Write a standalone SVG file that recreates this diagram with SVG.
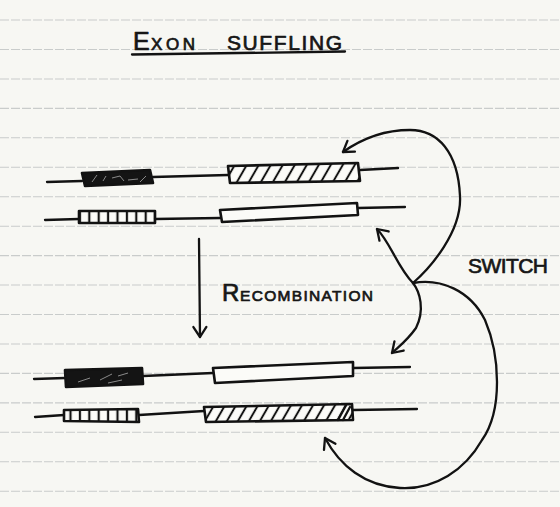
<svg xmlns="http://www.w3.org/2000/svg" width="560" height="507" viewBox="0 0 560 507">
<style>
.rule{stroke:#c9cccb;stroke-width:1.1;stroke-dasharray:9 2;fill:none}
.ink{stroke:#121212;stroke-width:2.3;fill:none;stroke-linecap:round;stroke-linejoin:round}
.box{stroke:#121212;stroke-width:2.6;stroke-linejoin:round}
.txt{font-family:"Liberation Sans","DejaVu Sans",sans-serif;fill:#161616;stroke:#161616;stroke-width:0.7;stroke-linejoin:round}
.scr{stroke:#e8e8e8;stroke-width:0.8;fill:none;opacity:0.7}
</style>
<defs>
<pattern id="hatch" patternUnits="userSpaceOnUse" width="12" height="40" patternTransform="skewX(-30)">
<rect width="12" height="40" fill="#fbfbf8"/>
<line x1="6" y1="-2" x2="6" y2="42" stroke="#121212" stroke-width="2.3"/>
</pattern>
<pattern id="hatch4" patternUnits="userSpaceOnUse" width="11" height="40" patternTransform="translate(3,0) skewX(-30)">
<rect width="11" height="40" fill="#fbfbf8"/>
<line x1="5" y1="-2" x2="5" y2="42" stroke="#121212" stroke-width="2.3"/>
</pattern>
<pattern id="bars" patternUnits="userSpaceOnUse" width="9.4" height="40">
<rect width="9.4" height="40" fill="#fbfbf8"/>
<line x1="4.7" y1="0" x2="4.7" y2="40" stroke="#121212" stroke-width="2.2"/>
</pattern>
<marker id="ah" viewBox="-12 -9 14 18" refX="0" refY="0" markerWidth="14" markerHeight="18" markerUnits="userSpaceOnUse" orient="auto">
<path d="M-10,-6.5 L0,0 L-10,6.5" fill="none" stroke="#121212" stroke-width="2.3" stroke-linecap="round" stroke-linejoin="round"/>
</marker>
</defs>
<rect width="560" height="507" fill="#f7f7f3"/>
<g id="paper-rules">
<line class="rule" x1="0" y1="20" x2="560" y2="20"/>
<line class="rule" x1="0" y1="49.5" x2="560" y2="49.5"/>
<line class="rule" x1="0" y1="79" x2="560" y2="79"/>
<line class="rule" x1="0" y1="108.4" x2="560" y2="108.4"/>
<line class="rule" x1="0" y1="137.8" x2="560" y2="137.8"/>
<line class="rule" x1="0" y1="167.3" x2="560" y2="167.3"/>
<line class="rule" x1="0" y1="196.7" x2="560" y2="196.7"/>
<line class="rule" x1="0" y1="226.2" x2="560" y2="226.2"/>
<line class="rule" x1="0" y1="255.6" x2="560" y2="255.6"/>
<line class="rule" x1="0" y1="285" x2="560" y2="285"/>
<line class="rule" x1="0" y1="314.5" x2="560" y2="314.5"/>
<line class="rule" x1="0" y1="344" x2="560" y2="344"/>
<line class="rule" x1="0" y1="373.4" x2="560" y2="373.4"/>
<line class="rule" x1="0" y1="402.9" x2="560" y2="402.9"/>
<line class="rule" x1="0" y1="432.3" x2="560" y2="432.3"/>
<line class="rule" x1="0" y1="461.8" x2="560" y2="461.8"/>
<line class="rule" x1="0" y1="491.2" x2="560" y2="491.2"/>
</g>

<g id="title">
<text class="txt" x="133" y="50" font-size="25">E</text>
<text class="txt" x="151" y="50" font-size="17" textLength="44" lengthAdjust="spacing">XON</text>
<text class="txt" x="227" y="50" font-size="21" textLength="115" lengthAdjust="spacing">SUFFLING</text>
<path class="ink" d="M132,54.5 L345,51.5" stroke-width="2.8"/>
</g>

<g id="row1">
<path class="ink" d="M47,182 L82,181"/>
<polygon class="box" fill="#141414" points="82,173 150,170 153,183 85,186"/>
<path class="scr" d="M92,182 L97,175 M103,181 L106,176 M112,178 L120,176 L124,181 M128,180 L138,179 M140,182 L146,176"/>
<path class="ink" d="M153,177 L228,175"/>
<polygon class="box" fill="url(#hatch)" points="228,166 358,163 360,181 230,183"/>
<path class="ink" d="M360,170 L398,168"/>
</g>

<g id="row2">
<path class="ink" d="M45,220 L79,219"/>
<polygon class="box" fill="url(#bars)" points="79,211 155,211 155,223 79,223"/>
<path class="ink" d="M155,219 L220,218"/>
<polygon class="box" fill="#fbfbf8" points="220,210 357,203 358,215 222,222"/>
<path class="ink" d="M358,208 L405,207"/>
</g>

<g id="row3">
<path class="ink" d="M34,379 L65,378"/>
<polygon class="box" fill="#141414" points="65,370 142,368 143,384 66,387"/>
<path class="scr" d="M78,382 L90,378 M100,380 L112,374 M118,376 L128,373 M108,383 L122,380"/>
<path class="ink" d="M143,376 L213,373"/>
<polygon class="box" fill="#fbfbf8" points="213,368 353,362 353,376 215,383"/>
<path class="ink" d="M353,368 L410,367"/>
</g>

<g id="row4">
<path class="ink" d="M35,417 L64,415"/>
<polygon class="box" fill="url(#bars)" points="64,410 138,409 139,422 64,421"/>
<path class="ink" d="M139,415 L204,411"/>
<polygon class="box" fill="url(#hatch4)" points="204,407 352,404 353,420 206,422"/>
<path class="ink" d="M338,420 L346,405 M343,420 L350,407" stroke-width="1.8"/>
<path class="ink" d="M353,410 L417,409"/>
</g>

<g id="labels">
<text class="txt" x="222" y="301" font-size="24">R</text>
<text class="txt" x="240" y="301" font-size="15.5" textLength="133" lengthAdjust="spacing">ECOMBINATION</text>
<text class="txt" x="468" y="273" font-size="21" textLength="80" lengthAdjust="spacing">SWITCH</text>
</g>

<g id="connectors">
<path class="ink" d="M199,239 L200,337" marker-end="url(#ah)"/>
<path class="ink" d="M413,283 C430,268 462,232 460,196 C458,152 438,130 410,130 C383,130 360,140 343,152" marker-end="url(#ah)"/>
<path class="ink" d="M413,283 C398,268 390,242 377,229" marker-end="url(#ah)"/>
<path class="ink" d="M413,283 C420,292 425,310 416,328 C406,342 398,347 392,353" marker-end="url(#ah)"/>
<path class="ink" d="M413,283 C440,278 470,290 485,320 C500,355 503,410 482,440 C465,470 435,490 400,488 C365,486 340,466 325,438" marker-end="url(#ah)"/>
</g>
</svg>
